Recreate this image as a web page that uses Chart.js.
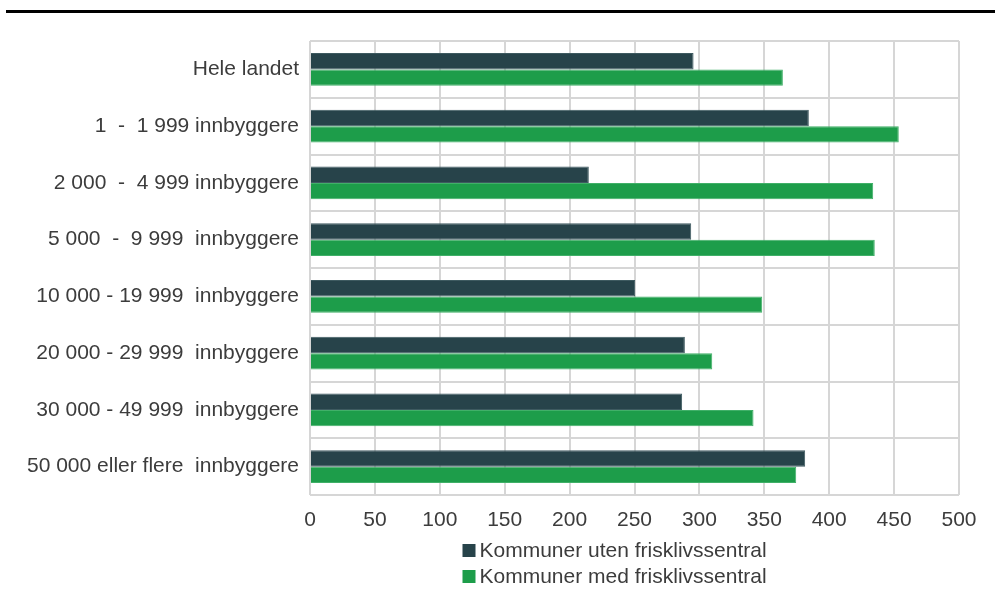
<!DOCTYPE html>
<html lang="no">
<head>
<meta charset="utf-8">
<title>Kommuner med og uten frisklivssentral</title>
<script src="https://cdn.jsdelivr.net/npm/chart.js@4/dist/chart.umd.min.js"></script>
<style>
  html, body { margin: 0; padding: 0; background: #ffffff; }
  #wrap { position: relative; width: 995px; height: 589px; }
  #rule { position: absolute; left: 6px; right: 0; top: 10px; height: 3px; background: #000000; }
  #chart { position: absolute; left: 0; top: 0; }
</style>
</head>
<body>
<div id="wrap">
  <canvas id="chart" width="995" height="589"></canvas>
  <div id="rule"></div>
</div>
<script>
// Kommunegrupper etter innbyggertall
const categories = [
  'Hele landet',
  '1  -  1 999 innbyggere',
  '2 000  -  4 999 innbyggere',
  '5 000  -  9 999  innbyggere',
  '10 000 - 19 999  innbyggere',
  '20 000 - 29 999  innbyggere',
  '30 000 - 49 999  innbyggere',
  '50 000 eller flere  innbyggere'
];

const seriesNames = ['Kommuner uten frisklivssentral', 'Kommuner med frisklivssentral'];

const utenFrisklivssentral = [295.5, 384.3, 214.8, 293.7, 250.5, 288.8, 286.7, 381.5];
const medFrisklivssentral  = [364.3, 453.6, 433.9, 435.1, 348.4, 309.9, 341.7, 374.6];

const xTicks = [0, 50, 100, 150, 200, 250, 300, 350, 400, 450, 500];

const seriesColors = ['#27434a', '#1d9d4a'];
const seriesEdges  = ['#3e5a60', '#40b068'];

const textColor = '#3c3c3c';
const fontFamily = '"Liberation Sans", Arial, Helvetica, sans-serif';

// Two-row legend below the axis, boxes + labels
const stackedLegend = {
  id: 'stackedLegend',
  afterDraw(chart) {
    const { ctx, chartArea } = chart;
    const centre = (chartArea.left + chartArea.right) / 2;
    const x0 = centre - 172;
    const rows = [550, 576];
    ctx.save();
    ctx.font = '21px ' + fontFamily;
    ctx.textBaseline = 'middle';
    ctx.textAlign = 'left';
    chart.data.datasets.forEach((ds, i) => {
      const y = rows[i];
      ctx.fillStyle = ds.backgroundColor;
      ctx.fillRect(x0, y - 6, 13, 13);
      ctx.fillStyle = textColor;
      ctx.fillText(ds.label, x0 + 17, y + 1);
    });
    ctx.restore();
  }
};

new Chart(document.getElementById('chart'), {
  type: 'bar',
  data: {
    labels: categories,
    datasets: [
      {
        label: seriesNames[0],
        data: utenFrisklivssentral,
        backgroundColor: seriesColors[0],
        borderColor: seriesEdges[0],
        borderWidth: 1,
        categoryPercentage: 0.58,
        barPercentage: 1.0
      },
      {
        label: seriesNames[1],
        data: medFrisklivssentral,
        backgroundColor: seriesColors[1],
        borderColor: seriesEdges[1],
        borderWidth: 1,
        categoryPercentage: 0.58,
        barPercentage: 1.0
      }
    ]
  },
  options: {
    indexAxis: 'y',
    responsive: false,
    animation: false,
    devicePixelRatio: 1,
    layout: { padding: { top: 41, right: 36, bottom: 54, left: 0 } },
    plugins: {
      legend: { display: false },
      tooltip: { enabled: false },
      title: { display: false }
    },
    scales: {
      x: {
        type: 'linear',
        min: 0,
        max: 500,
        afterBuildTicks(scale) {
          scale.ticks = xTicks.map(v => ({ value: v }));
        },
        afterFit(scale) { scale.height = 40; },
        grid: {
          color: '#d6d6d6',
          lineWidth: 2,
          drawTicks: false
        },
        border: { display: false },
        ticks: {
          color: textColor,
          font: { family: fontFamily, size: 21 },
          padding: 13
        }
      },
      y: {
        type: 'category',
        afterFit(scale) { scale.width = 310; },
        grid: {
          offset: true,
          color: '#d6d6d6',
          lineWidth: 2,
          drawTicks: false
        },
        border: { display: false },
        ticks: {
          color: textColor,
          font: { family: fontFamily, size: 21 },
          padding: 11
        }
      }
    }
  },
  plugins: [stackedLegend]
});
</script>
</body>
</html>
